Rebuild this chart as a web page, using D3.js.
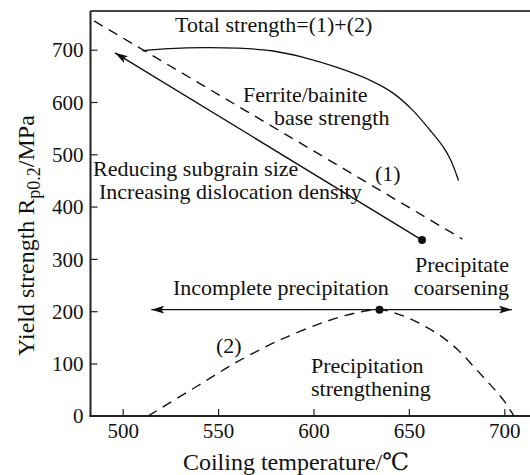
<!DOCTYPE html>
<html>
<head>
<meta charset="utf-8">
<script src="https://cdn.jsdelivr.net/npm/d3@7"></script>
<style>
  html, body { margin: 0; padding: 0; background: #fff; }
</style>
</head>
<body>
<svg id="chart" width="530" height="475"></svg>
<script>
// Axis ticks
const xTicks = [500, 550, 600, 650, 700];
const yTicks = [0, 100, 200, 300, 400, 500, 600, 700];

// (1) ferrite/bainite base strength, straight dashed line
const baseTemp = [485, 678];
const baseStrength = [755, 338];

// Total strength = (1) + (2), solid curve
const totalTemp = [510.4, 524.5, 542.7, 559.9, 578, 595.2, 612.4, 630.6, 641.7, 651.8, 660.9, 668, 672, 676];
const totalStrength = [698, 702, 704, 703, 698, 685, 666, 640, 617, 585, 547, 514, 488, 450];

// (2) precipitation strengthening, dashed curve
const precipTemp = [513.4, 538.7, 559.9, 583, 606.3, 622.5, 634.6, 647, 657, 667, 676, 684, 690, 695, 700, 705];
const precipStrength = [0, 56, 103, 146, 180, 197, 203, 191, 174, 152, 125, 94, 70, 50, 28, 0];

// Arrow: reducing subgrain size / increasing dislocation density
const arrowTemp = [656.9, 496];
const arrowStrength = [336, 694];

// Horizontal double arrow and peak marker
const rangeTemp = [515, 704];
const rangeStrength = 203;
const peakTemp = 634.6;

const serif = "'Liberation Serif', 'DejaVu Serif', serif";

const svg = d3.select("#chart").attr("font-family", serif);
const plotLeft = 90.5, plotRight = 530, plotTop = 11, plotBottom = 416;

const x = d3.scaleLinear().domain([500, 700]).range([122.7, 504.3]);
const y = d3.scaleLinear().domain([0, 700]).range([415.8, 49.7]);

const defs = svg.append("defs");
defs.append("marker")
  .attr("id", "head")
  .attr("viewBox", "0 0 13 8")
  .attr("refX", 13).attr("refY", 4)
  .attr("markerWidth", 13).attr("markerHeight", 8)
  .attr("markerUnits", "userSpaceOnUse")
  .attr("orient", "auto-start-reverse")
  .append("path").attr("d", "M0,0 L13,4 L0,8 L3,4 Z").attr("fill", "#111");

// Frame: top border, left and bottom axes
svg.append("line").attr("x1", plotLeft).attr("x2", plotRight).attr("y1", plotTop).attr("y2", plotTop)
  .attr("stroke", "#444").attr("stroke-width", 2);

const xAxis = d3.axisBottom(x).tickValues(xTicks).tickSize(0).tickPadding(0);
const gx = svg.append("g").attr("transform", `translate(0,${plotBottom})`).call(xAxis)
  .attr("font-family", serif);
gx.select(".domain").remove();
gx.selectAll(".tick line").remove();
gx.selectAll(".tick").append("line").attr("y1", 0).attr("y2", -7).attr("stroke", "#222").attr("stroke-width", 1.2);
gx.selectAll(".tick text").attr("y", 22).attr("dy", 0).attr("font-size", 21).attr("fill", "#111");

const yAxis = d3.axisLeft(y).tickValues(yTicks).tickSize(0).tickPadding(0);
const gy = svg.append("g").attr("transform", `translate(${plotLeft},0)`).call(yAxis)
  .attr("font-family", serif);
gy.select(".domain").remove();
gy.selectAll(".tick line").remove();
gy.selectAll(".tick").append("line").attr("x1", 0).attr("x2", 7).attr("stroke", "#222").attr("stroke-width", 1.2);
gy.selectAll(".tick text").attr("x", -7).attr("dy", "0.34em").attr("font-size", 21).attr("fill", "#111");

svg.append("line").attr("x1", plotLeft).attr("x2", plotLeft).attr("y1", plotTop).attr("y2", plotBottom + 1)
  .attr("stroke", "#222").attr("stroke-width", 2);
svg.append("line").attr("x1", plotLeft - 1).attr("x2", plotRight).attr("y1", plotBottom).attr("y2", plotBottom)
  .attr("stroke", "#222").attr("stroke-width", 2);

// Axis titles
svg.append("text").attr("x", 296).attr("y", 470).attr("text-anchor", "middle")
  .attr("font-size", 24).attr("fill", "#111").text("Coiling temperature/℃");

const yt = svg.append("text").attr("transform", "translate(34,356) rotate(-90)")
  .attr("text-anchor", "start").attr("font-size", 24).attr("fill", "#111");
yt.append("tspan").text("Yield strength R");
yt.append("tspan").attr("dy", 6).attr("font-size", 18).text("p0.2");
yt.append("tspan").attr("dy", -6).text("/MPa");

const line = d3.line().x(d => x(d[0])).y(d => y(d[1]));
const curve = d3.line().x(d => x(d[0])).y(d => y(d[1])).curve(d3.curveCatmullRom);

// (1) base strength
svg.append("path")
  .datum(d3.zip(baseTemp, baseStrength))
  .attr("d", line)
  .attr("fill", "none").attr("stroke", "#111").attr("stroke-width", 1.4)
  .attr("stroke-dasharray", "10,7");

// Total strength
svg.append("path")
  .datum(d3.zip(totalTemp, totalStrength))
  .attr("d", curve)
  .attr("fill", "none").attr("stroke", "#111").attr("stroke-width", 1.3);

// (2) precipitation strengthening
svg.append("path")
  .datum(d3.zip(precipTemp, precipStrength))
  .attr("d", curve)
  .attr("fill", "none").attr("stroke", "#111").attr("stroke-width", 1.4)
  .attr("stroke-dasharray", "10,7");

// Arrow towards lower coiling temperature
svg.append("line")
  .attr("x1", x(arrowTemp[0])).attr("y1", y(arrowStrength[0]))
  .attr("x2", x(arrowTemp[1])).attr("y2", y(arrowStrength[1]))
  .attr("stroke", "#111").attr("stroke-width", 1.4)
  .attr("marker-end", "url(#head)");
svg.append("circle").attr("cx", x(arrowTemp[0])).attr("cy", y(arrowStrength[0])).attr("r", 4).attr("fill", "#111");

// Double arrow across the precipitation range
svg.append("line")
  .attr("x1", x(rangeTemp[0])).attr("y1", y(rangeStrength))
  .attr("x2", x(rangeTemp[1])).attr("y2", y(rangeStrength))
  .attr("stroke", "#111").attr("stroke-width", 1.4)
  .attr("marker-start", "url(#head)").attr("marker-end", "url(#head)");
svg.append("circle").attr("cx", x(peakTemp)).attr("cy", y(rangeStrength)).attr("r", 4).attr("fill", "#111");

// Annotations
const notes = [
  { t: "Total strength=(1)+(2)", x: 175, y: 32, a: "start" },
  { t: "Ferrite/bainite", x: 243, y: 102, a: "start" },
  { t: "base strength", x: 274, y: 125, a: "start" },
  { t: "(1)", x: 375, y: 181, a: "start" },
  { t: "Reducing subgrain size", x: 93, y: 176, a: "start" },
  { t: "Increasing dislocation density", x: 99, y: 199, a: "start" },
  { t: "Precipitate", x: 509, y: 272, a: "end" },
  { t: "coarsening", x: 509, y: 295, a: "end" },
  { t: "Incomplete precipitation", x: 173, y: 295, a: "start" },
  { t: "(2)", x: 216, y: 353, a: "start" },
  { t: "Precipitation", x: 311, y: 373, a: "start" },
  { t: "strengthening", x: 311, y: 396, a: "start" }
];
svg.append("g").selectAll("text").data(notes).join("text")
  .attr("x", d => d.x).attr("y", d => d.y).attr("text-anchor", d => d.a)
  .attr("font-size", 22).attr("fill", "#111").text(d => d.t);
</script>
</body>
</html>
